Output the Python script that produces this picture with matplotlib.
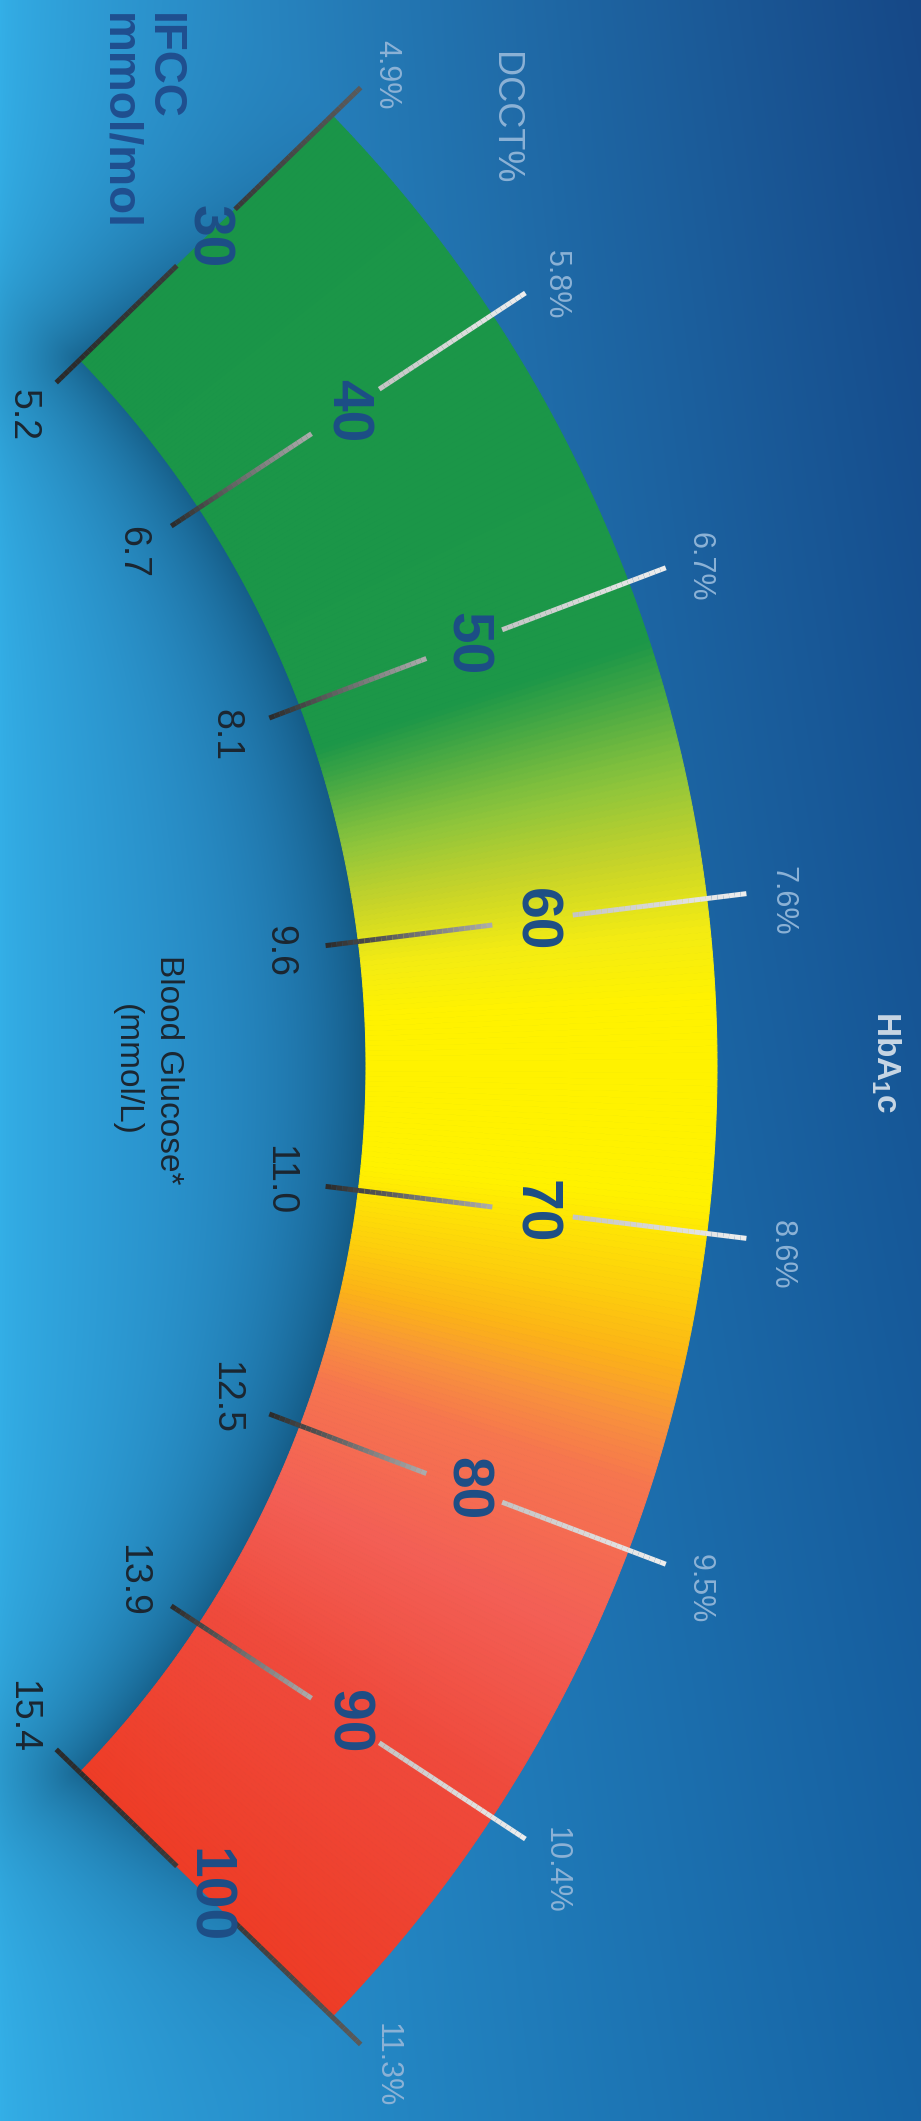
import numpy as np
import matplotlib
matplotlib.use("Agg")
import matplotlib.pyplot as plt
from matplotlib.collections import LineCollection, PolyCollection
from matplotlib.colors import LinearSegmentedColormap, to_rgb

# HbA1c gauge: IFCC (mmol/mol) with matching DCCT % and mean blood glucose
ifcc = [30, 40, 50, 60, 70, 80, 90, 100]
dcct = ["4.9%", "5.8%", "6.7%", "7.6%", "8.6%", "9.5%", "10.4%", "11.3%"]
glucose = ["5.2", "6.7", "8.1", "9.6", "11.0", "12.5", "13.9", "15.4"]

# colour of the band along the IFCC scale
band_vals = [30, 52, 56, 58.5, 61, 63, 69, 72, 74, 76, 78, 83, 89, 100]
band_cols = ["#1a9548", "#1c9748", "#8bc43c", "#c6d32a", "#f4ec12", "#fff200",
             "#fff200", "#fdd00c", "#fcb416", "#f8923c", "#f6754f", "#f35f55",
             "#ef4a3c", "#ee3c26"]

W, H = 921, 2121
cx, cy = -649, 1066          # centre of the arc (off the left edge)
r_in, r_out = 1015, 1366     # band radii


def ang(v):
    # IFCC value -> angle in degrees (slightly wider in the middle)
    u = (65 - np.asarray(v, float)) / 35
    return 49.4 * u - 5.3 * u**3


def pol(r, th):
    t = np.radians(th)
    return cx + r * np.cos(t), cy - r * np.sin(t)


def grad_line(ax, r0, r1, th, c0, c1, lw=3.6, n=30):
    rs = np.linspace(r0, r1, n + 1)
    x, y = pol(rs, th)
    segs = [[(x[i], y[i]), (x[i + 1], y[i + 1])] for i in range(n)]
    f = np.linspace(0, 1, n)[:, None]
    cols = np.array(to_rgb(c0)) * (1 - f) + np.array(to_rgb(c1)) * f
    ax.add_collection(LineCollection(segs, colors=cols, linewidths=lw, capstyle="butt"))


# ---- background: light cyan on the left, deep blue on the right ----
yy, xx = np.mgrid[0:H, 0:W] + 0.5
t = (yy / H)[..., None]
left = np.array([52, 176, 232]) / 255
right = np.array([22, 72, 135]) / 255 * (1 - t) + np.array([22, 100, 165]) / 255 * t
w = ((xx / W) ** 0.7)[..., None]
bg = left * (1 - w) + right * w

# soft shadow under the inner side of the band
rr = np.hypot(xx - cx, yy - cy)
th = np.degrees(np.arctan2(cy - yy, xx - cx))
over = np.clip(np.abs(th) - ang(30), 0, None)
d = np.hypot(np.radians(over) * rr, np.clip(r_in - rr, 0, None))
fade = np.where(rr < r_in, 1.0, np.clip((r_out - rr) / (r_out - r_in), 0, 1))
s = (0.65 * np.exp(-d / 70) * fade)[..., None]
bg = bg * (1 - s) + np.array([12, 70, 105]) / 255 * s

plt.rcParams["font.family"] = ["Liberation Sans", "DejaVu Sans"]
plt.rcParams["mathtext.fontset"] = "custom"
plt.rcParams["mathtext.bf"] = "Liberation Sans:bold"
plt.rcParams["mathtext.rm"] = "Liberation Sans"

fig = plt.figure(figsize=(W / 100, H / 100), dpi=100)
ax = fig.add_axes([0, 0, 1, 1])
ax.imshow(bg, extent=(0, W, H, 0), interpolation="bilinear")
ax.set_xlim(0, W)
ax.set_ylim(H, 0)
ax.axis("off")

# ---- coloured band ----
cmap = LinearSegmentedColormap.from_list(
    "band", list(zip([(v - 30) / 70 for v in band_vals], band_cols)), N=1024)
vs = np.linspace(ifcc[0], ifcc[-1], 351)
polys = []
for a, b in zip(vs[:-1], vs[1:]):
    arc = np.linspace(ang(a), ang(b), 3)
    xo, yo = pol(r_out, arc)
    xi, yi = pol(r_in, arc[::-1])
    polys.append(np.column_stack([np.r_[xo, xi], np.r_[yo, yi]]))
cols = cmap(((vs[:-1] + vs[1:]) / 2 - 30) / 70)
ax.add_collection(PolyCollection(polys, facecolors=cols, edgecolors=cols, linewidths=0.7))

# ---- ticks and labels ----
for i, v in enumerate(ifcc):
    a = ang(v)
    if i in (0, len(ifcc) - 1):
        grad_line(ax, 982, 1150, a, "#2a2a2a", "#3a3a3a")
        grad_line(ax, 1231, 1406, a, "#3a3a3a", "#5a5a5a")
    else:
        grad_line(ax, 982, 1150, a, "#2c2c2c", "#ababab")
        grad_line(ax, 1231, 1406, a, "#c4c4c4", "#ededed")

    x, y = pol(1192, a)
    ax.text(x, y, str(v), rotation=-90, rotation_mode="anchor", ha="center", va="center",
            fontsize=41, fontweight="bold", color="#1d4e86")
    x, y = pol(1442, a)
    ax.text(x, min(y + 12, H - 56), dcct[i], rotation=-90, rotation_mode="anchor",
            ha="center", va="center", fontsize=22, color="#8cb2d6")
    x, y = pol(935, a)
    ax.text(x, y, glucose[i], rotation=-90, rotation_mode="anchor", ha="center", va="center",
            fontsize=27, color="#1b2630")

# ---- titles ----
ax.text(163, 13, "IFCC", rotation=-90, rotation_mode="anchor", ha="left", va="center",
        fontsize=33, fontweight="bold", color="#1f4f8f")
ax.text(118, 13, "mmol/mol", rotation=-90, rotation_mode="anchor", ha="left", va="center",
        fontsize=33, fontweight="bold", color="#1f4f8f")
ax.text(504, 118, "DCCT%", rotation=-90, rotation_mode="anchor", ha="center", va="center",
        fontsize=26, color="#8cb2d6")
ax.text(886, 1062, r"$\mathbf{HbA_{1}c}$", rotation=-90, rotation_mode="anchor",
        ha="center", va="center", fontsize=24, color="#c8d6e4")
ax.text(168, 1070, "Blood Glucose*", rotation=-90, rotation_mode="anchor", ha="center",
        va="center", fontsize=24, color="#1b2630")
ax.text(126, 1070, "(mmol/L)", rotation=-90, rotation_mode="anchor", ha="center",
        va="center", fontsize=24, color="#1b2630")

fig.savefig("out.png", dpi=100)
